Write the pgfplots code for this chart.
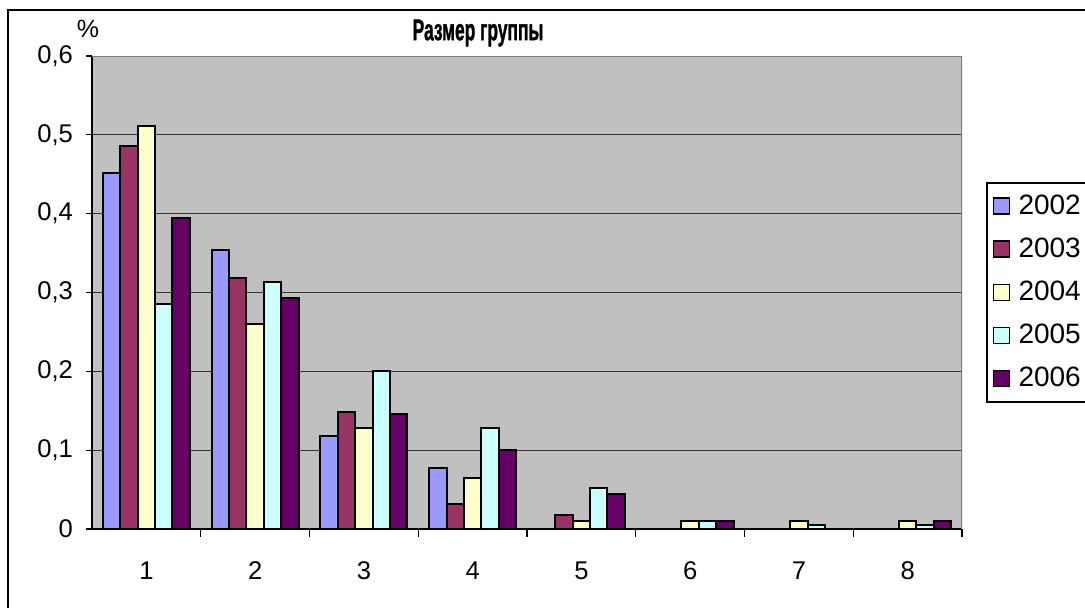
\documentclass[border=0pt]{standalone}
\usepackage{fontspec}
\setmainfont{Liberation Sans}
\newfontfamily\titlefont[FakeBold=1.5]{Liberation Sans Bold}
\usepackage{graphicx}
\usepackage{pgfplots}
\pgfplotsset{compat=1.18}
\definecolor{c02}{HTML}{9999FF}
\definecolor{c03}{HTML}{993366}
\definecolor{c04}{HTML}{FFFFCC}
\definecolor{c05}{HTML}{CCFFFF}
\definecolor{c06}{HTML}{660066}
\definecolor{bg}{HTML}{C0C0C0}
\begin{document}
\begin{tikzpicture}
\useasboundingbox (0,0) rectangle (542.5pt,303.5pt);
\draw[line width=0.75pt] (4pt,-2pt) -- (4pt,298.5pt) -- (550pt,298.5pt);
\node at (239pt,287pt) {\scalebox{0.58}[1]{\fontsize{15}{17}\titlefont Размер группы}};
\node at (44pt,289pt) {\fontsize{12.5}{14}\selectfont \%};
\begin{axis}[
  at={(46pt,39pt)}, anchor=south west, scale only axis,
  width=435pt, height=236.5pt,
  ybar=0pt, bar width=8.7pt,
  xmin=0.5, xmax=8.5, ymin=0, ymax=0.6,
  axis background/.style={fill=bg},
  axis lines=left, axis line style={-, line width=0.75pt, black},
  xtick={1,2,3,4,5,6,7,8}, major x tick style={draw=none},
  minor xtick={1.5,2.5,3.5,4.5,5.5,6.5,7.5,8.5},
  minor tick length=4pt, major tick length=3pt,
  tick align=outside, xtick pos=left, ytick pos=left,
  minor x tick style={line width=0.6pt, black},
  major y tick style={line width=0.6pt, black},
  ytick={0,0.1,0.2,0.3,0.4,0.5,0.6},
  ymajorgrids, major grid style={black!80, line width=0.5pt},
  /pgf/number format/assume math mode=true,
  /pgf/number format/use comma,
  /pgf/number format/fixed,
  /pgf/number format/precision=1,
  ticklabel style={font=\fontsize{12.8}{15}\selectfont},
  xticklabel style={yshift=-10pt},
  yticklabel style={xshift=-3pt},
  every axis plot/.append style={draw=black, line width=1pt},
  legend style={at={(1.0276,0.7336)}, anchor=north west, draw=black, line width=0.75pt,
     fill=white, font=\fontsize{14}{16}\selectfont, row sep=6.3pt, inner xsep=3pt, inner ysep=4pt},
  legend cell align=left,
  legend image code/.code={\draw[#1, draw=black, line width=0.75pt] (0pt,-4pt) rectangle (8pt,4pt); \path (10pt,0pt);},
]
\draw[gray, line width=0.6pt] (rel axis cs:0,1) -- (rel axis cs:1,1) -- (rel axis cs:1,0);
\addplot[fill=c02] coordinates {(1,0.452) (2,0.354) (3,0.118) (4,0.078)};
\addplot[fill=c03] coordinates {(1,0.486) (2,0.318) (3,0.148) (4,0.032) (5,0.018)};
\addplot[fill=c04] coordinates {(1,0.511) (2,0.260) (3,0.128) (4,0.065) (5,0.010) (6,0.010) (7,0.010) (8,0.010)};
\addplot[fill=c05] coordinates {(1,0.285) (2,0.313) (3,0.200) (4,0.128) (5,0.052) (6,0.010) (7,0.005) (8,0.005)};
\addplot[fill=c06] coordinates {(1,0.395) (2,0.293) (3,0.146) (4,0.100) (5,0.045) (6,0.010) (8,0.010)};
\legend{2002,2003,2004,2005,2006}
\end{axis}
\end{tikzpicture}
\end{document}
